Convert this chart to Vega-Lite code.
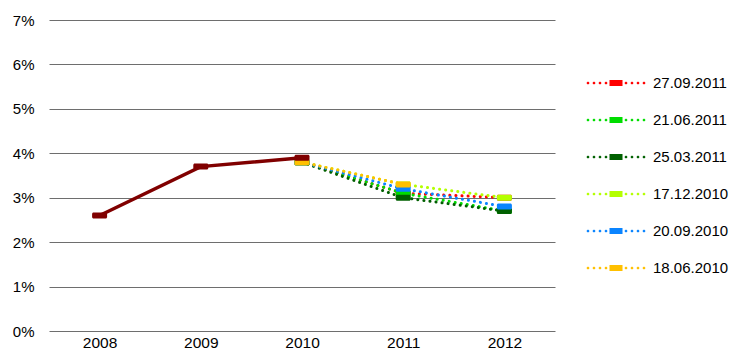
{
  "$schema": "https://vega.github.io/schema/vega-lite/v6.json",
  "width": 506,
  "height": 311,
  "autosize": {"type": "none"},
  "padding": {"left": 49, "top": 20, "right": 181, "bottom": 20},
  "background": "white",
  "config": {
    "view": {"stroke": null},
    "font": "Liberation Sans"
  },
  "datasets": {
    "actual": [
      {"year": "2008", "rate": 2.6},
      {"year": "2009", "rate": 3.7},
      {"year": "2010", "rate": 3.9}
    ],
    "forecast": [
      {"release": "27.09.2011", "year": "2010", "rate": 3.8},
      {"release": "27.09.2011", "year": "2011", "rate": 3.1},
      {"release": "27.09.2011", "year": "2012", "rate": 3.0},
      {"release": "21.06.2011", "year": "2010", "rate": 3.8},
      {"release": "21.06.2011", "year": "2011", "rate": 3.1},
      {"release": "21.06.2011", "year": "2012", "rate": 2.7},
      {"release": "25.03.2011", "year": "2010", "rate": 3.8},
      {"release": "25.03.2011", "year": "2011", "rate": 3.0},
      {"release": "25.03.2011", "year": "2012", "rate": 2.7},
      {"release": "17.12.2010", "year": "2010", "rate": 3.8},
      {"release": "17.12.2010", "year": "2011", "rate": 3.3},
      {"release": "17.12.2010", "year": "2012", "rate": 3.0},
      {"release": "20.09.2010", "year": "2010", "rate": 3.8},
      {"release": "20.09.2010", "year": "2011", "rate": 3.2},
      {"release": "20.09.2010", "year": "2012", "rate": 2.8},
      {"release": "18.06.2010", "year": "2010", "rate": 3.8},
      {"release": "18.06.2010", "year": "2011", "rate": 3.3}
    ]
  },
  "encoding": {
    "x": {
      "field": "year",
      "type": "ordinal",
      "scale": {"type": "point", "padding": 0.5, "domain": ["2008", "2009", "2010", "2011", "2012"]},
      "axis": {
        "title": null,
        "labelAngle": 0,
        "domain": false,
        "ticks": false,
        "grid": false,
        "labelPadding": 4,
        "labelFontSize": 15.5,
        "labelColor": "#000000"
      }
    },
    "y": {
      "field": "rate",
      "type": "quantitative",
      "scale": {"domain": [0, 7], "nice": false, "zero": true},
      "axis": {
        "title": null,
        "values": [0, 1, 2, 3, 4, 5, 6, 7],
        "labelExpr": "datum.value + '%'",
        "domain": false,
        "ticks": false,
        "grid": true,
        "gridColor": "#6e6e6e",
        "gridWidth": 1,
        "labelPadding": 15,
        "labelFontSize": 15,
        "labelColor": "#000000"
      }
    }
  },
  "layer": [
    {
      "data": {"name": "forecast"},
      "mark": {"type": "line", "strokeWidth": 3, "strokeDash": [0.1, 6], "strokeCap": "round"},
      "encoding": {
        "color": {
          "field": "release",
          "type": "nominal",
          "scale": {
            "domain": ["27.09.2011", "21.06.2011", "25.03.2011", "17.12.2010", "20.09.2010", "18.06.2010"],
            "range": ["#ff0000", "#00dd00", "#006000", "#b4ff00", "#0a84ff", "#ffc000"]
          },
          "legend": {
            "title": null,
            "orient": "none",
            "legendX": 559,
            "legendY": 55,
            "symbolType": "M-3.67,0a0.17,0.17 0 1,0 0.34,0a0.17,0.17 0 1,0 -0.34,0M-2.92,0a0.17,0.17 0 1,0 0.34,0a0.17,0.17 0 1,0 -0.34,0M-2.17,0a0.17,0.17 0 1,0 0.34,0a0.17,0.17 0 1,0 -0.34,0M-1.42,0a0.17,0.17 0 1,0 0.34,0a0.17,0.17 0 1,0 -0.34,0M1.08,0a0.17,0.17 0 1,0 0.34,0a0.17,0.17 0 1,0 -0.34,0M1.83,0a0.17,0.17 0 1,0 0.34,0a0.17,0.17 0 1,0 -0.34,0M2.58,0a0.17,0.17 0 1,0 0.34,0a0.17,0.17 0 1,0 -0.34,0M3.33,0a0.17,0.17 0 1,0 0.34,0a0.17,0.17 0 1,0 -0.34,0M-0.8125,-0.375H0.8125V0.375H-0.8125Z",
            "symbolSize": 256,
            "symbolOffset": 0,
            "labelOffset": 29,
            "labelFontSize": 15,
            "labelColor": "#000000",
            "rowPadding": 21,
            "padding": 0,
            "encode": {
              "symbols": {
                "update": {
                  "fill": {"scale": "color", "field": "value"},
                  "strokeWidth": {"value": 0},
                  "opacity": {"value": 1}
                }
              }
            }
          }
        }
      }
    },
    {
      "data": {"name": "forecast"},
      "mark": {
        "type": "point",
        "shape": "M-0.8,-0.4H0.8A0.2,0.2 0 0 1 1,-0.2V0.2A0.2,0.2 0 0 1 0.8,0.4H-0.8A0.2,0.2 0 0 1 -1,0.2V-0.2A0.2,0.2 0 0 1 -0.8,-0.4Z",
        "size": 225,
        "filled": true,
        "opacity": 1
      },
      "encoding": {
        "color": {"field": "release", "type": "nominal"}
      }
    },
    {
      "data": {"name": "actual"},
      "mark": {"type": "line", "strokeWidth": 3.5, "color": "#800000"},
      "encoding": {}
    },
    {
      "data": {"name": "actual"},
      "mark": {
        "type": "point",
        "shape": "M-0.8,-0.4H0.8A0.2,0.2 0 0 1 1,-0.2V0.2A0.2,0.2 0 0 1 0.8,0.4H-0.8A0.2,0.2 0 0 1 -1,0.2V-0.2A0.2,0.2 0 0 1 -0.8,-0.4Z",
        "size": 225,
        "filled": true,
        "opacity": 1,
        "color": "#800000"
      },
      "encoding": {}
    }
  ]
}
